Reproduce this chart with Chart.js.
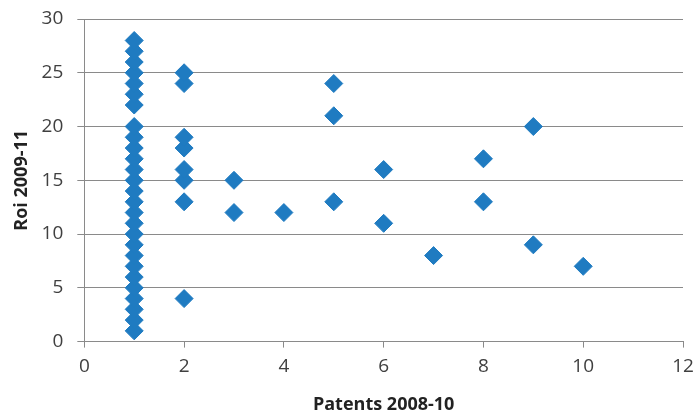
<!DOCTYPE html>
<html>
<head>
<meta charset="utf-8">
<script src="https://cdn.jsdelivr.net/npm/chart.js@4"></script>
<style>
  html, body { margin: 0; padding: 0; background: #fff; }
  #wrap { width: 694px; height: 416px; }
</style>
</head>
<body>
<div id="wrap"><canvas id="chart"></canvas></div>
<script>
'use strict';

// patents 2008-10 (x) against roi 2009-11 (y), one entry per firm
const patents = [
  1, 1, 1, 1, 1, 1, 1, 1, 1, 1, 1, 1, 1, 1, 1, 1, 1, 1, 1, 1,
  1, 1, 1, 1, 1, 1, 1,
  2, 2, 2, 2, 2, 2, 2, 2,
  3, 3,
  4,
  5, 5, 5,
  6, 6,
  7,
  8, 8,
  9, 9,
  10
];
const roi = [
  1, 2, 3, 4, 5, 6, 7, 8, 9, 10, 11, 12, 13, 14, 15, 16, 17, 18, 19, 20,
  22, 23, 24, 25, 26, 27, 28,
  4, 13, 15, 16, 18, 19, 24, 25,
  12, 15,
  12,
  13, 21, 24,
  11, 16,
  8,
  13, 17,
  9, 20,
  7
];
const xTitle = 'Patents 2008-10';
const yTitle = 'Roi 2009-11';

let points = [];
for (let i = 0; i < patents.length; i++) {
  points.push({ x: patents[i], y: roi[i] });
}

const blue = '#1f7bc1';
const gridColor = '#8a8a8a';
const tickFont = { family: 'Open Sans', size: 19 };
const titleFont = { family: 'Open Sans', size: 18, weight: 'bold' };

const ctx = document.getElementById('chart').getContext('2d');
const myChart = new Chart(ctx, {
  type: 'scatter',
  data: {
    datasets: [{
      data: points,
      pointStyle: 'rectRot',
      pointRadius: 9,
      pointBackgroundColor: blue,
      pointBorderColor: blue,
      pointBorderWidth: 1
    }]
  },
  options: {
    responsive: true,
    maintainAspectRatio: false,
    animation: false,
    layout: { padding: { top: 19, right: 11, left: 2, bottom: 0 } },
    plugins: {
      legend: { display: false },
      tooltip: { enabled: false }
    },
    scales: {
      x: {
        min: 0,
        max: 12,
        ticks: { stepSize: 2, color: '#404040', font: tickFont, padding: 8 },
        grid: { drawOnChartArea: false, color: gridColor, tickLength: 6 },
        border: { color: gridColor },
        title: { display: true, text: xTitle, color: '#222', font: titleFont, padding: { top: 8, bottom: 0 } },
        afterFit: function (scale) {
          scale.paddingLeft = 0;
          scale.paddingRight = 0;
        }
      },
      y: {
        min: 0,
        max: 30,
        ticks: { stepSize: 5, color: '#404040', font: tickFont, padding: 14 },
        grid: { color: gridColor, tickLength: 7 },
        border: { color: gridColor },
        title: { display: true, text: yTitle, color: '#222', font: titleFont, padding: { top: 9, bottom: -5 } },
        afterFit: function (scale) {
          scale.paddingTop = 0;
          scale.paddingBottom = 0;
        }
      }
    }
  }
});
</script>
</body>
</html>
